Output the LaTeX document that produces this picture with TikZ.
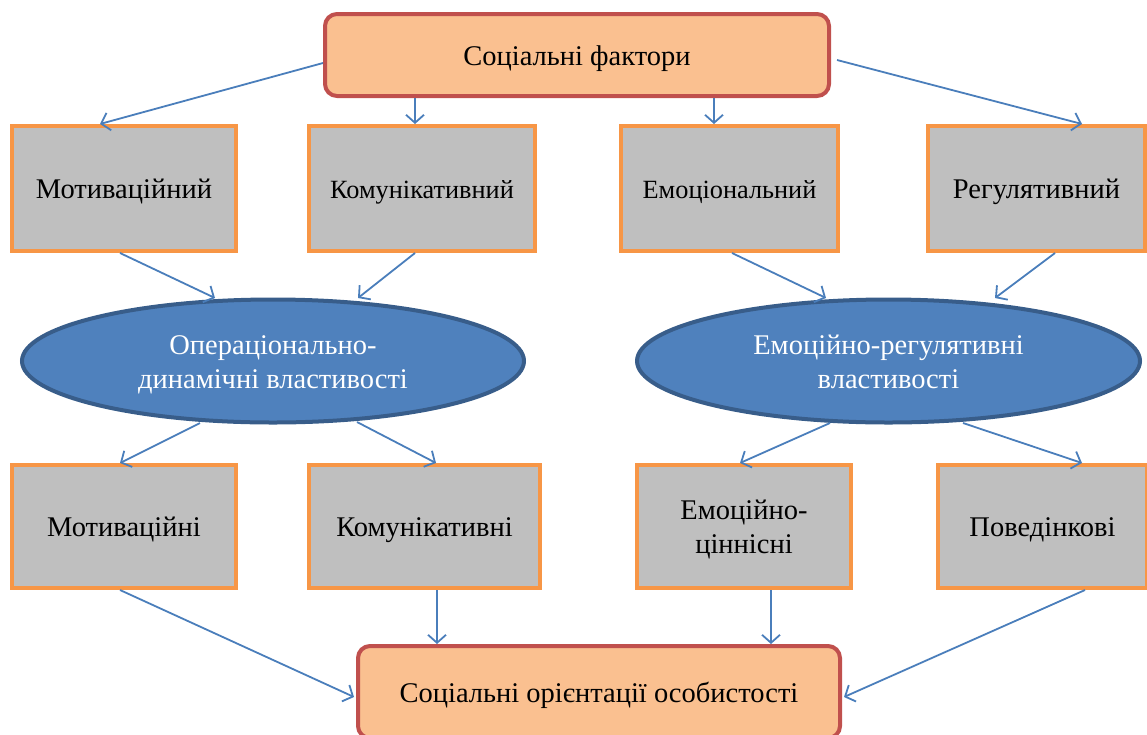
\documentclass[tikz,border=0pt]{standalone}
\usepackage{fontspec}
\setmainfont{Liberation Serif}
\usetikzlibrary{arrows.meta,calc,shapes.geometric}
\definecolor{peach}{HTML}{FAC090}
\definecolor{redb}{HTML}{C0504D}
\definecolor{grayf}{HTML}{BFBFBF}
\definecolor{orangeb}{HTML}{F79646}
\definecolor{bluef}{HTML}{4F81BD}
\definecolor{blueb}{HTML}{385D8A}
\definecolor{arrowc}{HTML}{4A7EBB}
\newcommand\dntxt[1]{\raisebox{-3.5pt}[\height][\depth]{\begin{tabular}{@{}c@{}}#1\end{tabular}}}
\tikzset{
  x=1pt,y=-1pt,
  mainbox/.style={draw=redb,fill=peach,line width=4pt,rounded corners=12pt,
    font=\fontsize{28.5}{34}\selectfont,align=center,inner sep=0pt},
  graybox/.style={draw=orangeb,fill=grayf,line width=4pt,
    font=\fontsize{28.5}{34}\selectfont,align=center,inner sep=0pt},
  smalltext/.style={font=\fontsize{26.3}{32}\selectfont},
  oval/.style={ellipse,draw=blueb,fill=bluef,line width=4pt,text=white,
    font=\fontsize{28.5}{34}\selectfont,align=center,inner sep=0pt},
  conn/.style={draw=arrowc,line width=1.8pt,-{Straight Barb[length=8pt,width=18pt,line width=1.8pt]}}
}
\begin{document}
\begin{tikzpicture}
\useasboundingbox (0,0) rectangle (1147,734);
\node[mainbox,minimum width=504pt,minimum height=82pt] (top) at (577,55) {\dntxt{Соціальні фактори}};
\node[graybox,minimum width=224pt,minimum height=125pt] (r1a) at (124,188.5) {\dntxt{Мотиваційний}};
\node[graybox,smalltext,minimum width=226pt,minimum height=125pt] (r1b) at (422,188.5) {\dntxt{Комунікативний}};
\node[graybox,smalltext,minimum width=217pt,minimum height=125pt] (r1c) at (729.5,188.5) {\dntxt{Емоціональний}};
\node[graybox,minimum width=217pt,minimum height=125pt] (r1d) at (1036.5,188.5) {\dntxt{Регулятивний}};
\node[oval,minimum width=502pt,minimum height=123pt] (e1) at (273,361) {\dntxt{Операціонально-\\динамічні властивості}};
\node[oval,minimum width=503pt,minimum height=123pt] (e2) at (888.5,361) {\dntxt{Емоційно-регулятивні\\властивості}};
\node[graybox,minimum width=224pt,minimum height=123pt] (r2a) at (124,526.5) {\dntxt{Мотиваційні}};
\node[graybox,minimum width=231pt,minimum height=123pt] (r2b) at (424.5,526.5) {\dntxt{Комунікативні}};
\node[graybox,minimum width=214pt,minimum height=123pt] (r2c) at (744,526.5) {\dntxt{Емоційно-\\ціннісні}};
\node[graybox,minimum width=209pt,minimum height=123pt] (r2d) at (1042.5,526.5) {\dntxt{Поведінкові}};
\node[mainbox,minimum width=482pt,minimum height=92pt] (bot) at (599,692) {\dntxt{Соціальні орієнтації особистості}};
% connectors
\draw[conn] ($(top.west)+(0,8)$) -- ($(r1a.north)+(-24,0)$);
\draw[conn] ($(top.south)+(-162,0)$) -- ($(r1b.north)+(-7,0)$);
\draw[conn] ($(top.south)+(137,0)$) -- ($(r1c.north)+(-15.5,0)$);
\draw[conn] ($(top.east)+(6,5)$) -- ($(r1d.north)+(45.5,0)$);
\draw[conn] ($(r1a.south)+(-4,0)$) -- ($(e1.center)+(-58,-63)$);
\draw[conn] ($(r1b.south)+(-7,0)$) -- ($(e1.center)+(85,-63)$);
\draw[conn] ($(r1c.south)+(2.5,0)$) -- ($(e2.center)+(-62.5,-63)$);
\draw[conn] ($(r1d.south)+(18.5,0)$) -- ($(e2.center)+(106.5,-63)$);
\draw[conn] ($(e1.center)+(-73,62)$) -- ($(r2a.north)+(-4,0)$);
\draw[conn] ($(e1.center)+(84,61)$) -- ($(r2b.north)+(11.5,0)$);
\draw[conn] ($(e2.center)+(-58.5,62)$) -- ($(r2c.north)+(-4,0)$);
\draw[conn] ($(e2.center)+(74.5,62)$) -- ($(r2d.north)+(39.5,0)$);
\draw[conn] ($(r2a.south)+(-4,0)$) -- ($(bot.west)+(-2,5)$);
\draw[conn] ($(r2b.south)+(12.5,0)$) -- ($(bot.north)+(-162,0)$);
\draw[conn] ($(r2c.south)+(27,0)$) -- ($(bot.north)+(172,0)$);
\draw[conn] ($(r2d.south)+(42.5,0)$) -- ($(bot.east)+(2,5)$);
\end{tikzpicture}
\end{document}
